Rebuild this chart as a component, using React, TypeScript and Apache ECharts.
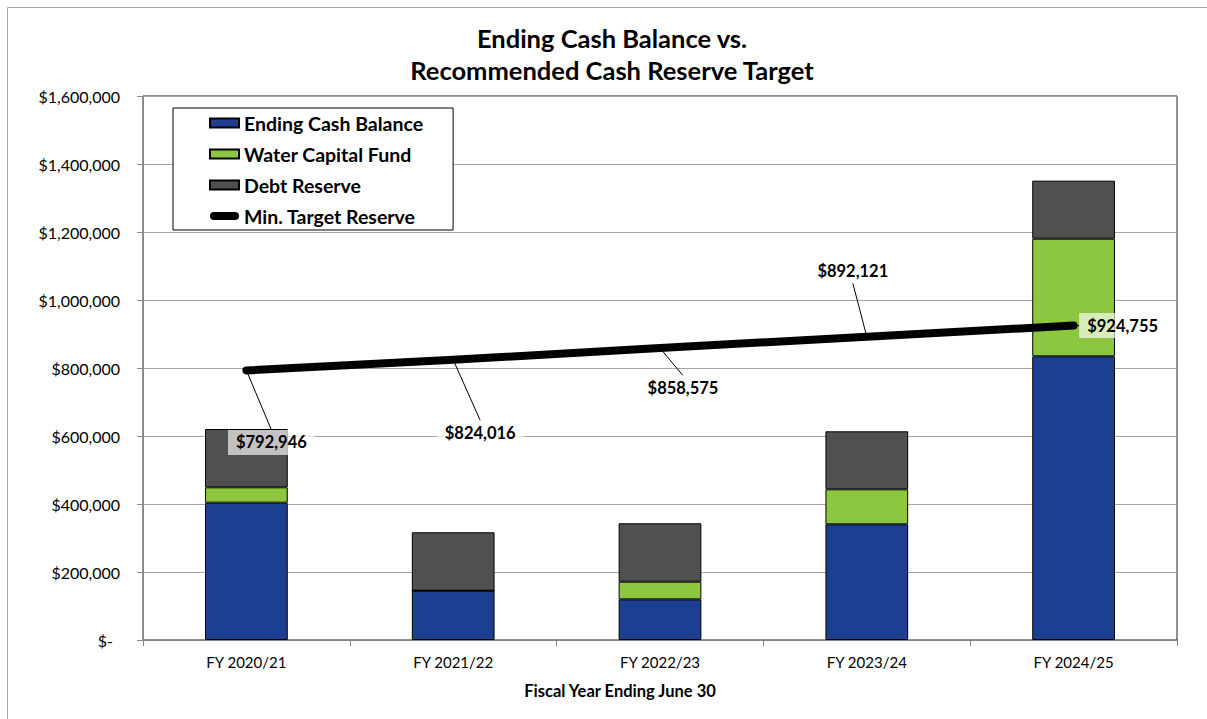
import React, { useEffect, useRef } from 'react';
import * as echarts from 'echarts';

const categories = ['FY 2020/21', 'FY 2021/22', 'FY 2022/23', 'FY 2023/24', 'FY 2024/25'];
const endingCashBalance = [403800, 145000, 119600, 340300, 834400];
const waterCapitalFund = [45300, 0, 51900, 102900, 345900];
const debtReserve = [171500, 171800, 171700, 170600, 170700];
const minTargetReserve = [792946, 824016, 858575, 892121, 924755];
const yTicks = { min: 0, max: 1600000, interval: 200000 };

// label placement offsets (px) relative to each line point
const labelOffsets: [number, number][] = [[25, 72], [27, 73], [23, 40], [-14, -66], [49, 0]];

const FONT = 'Lato, "Noto Sans", sans-serif';
const PILL = 'path://M4,0H25A4,4,0,0,1,25,8H4A4,4,0,0,1,4,0Z';

function money(v: number): string {
  return '$' + Math.round(v).toLocaleString('en-US');
}

export default function App() {
  const ref = useRef<HTMLDivElement>(null);
  useEffect(() => {
    if (!ref.current) return;
    const chart = echarts.init(ref.current, null, { renderer: 'svg' });
    chart.setOption({
      animation: false,
      backgroundColor: '#ffffff',
      textStyle: { fontFamily: FONT },
      graphic: [
        {
          type: 'rect', silent: true, z: -10,
          shape: { x: 7.5, y: 7.5, width: 1300, height: 800 },
          style: { fill: 'none', stroke: '#a6a6a6', lineWidth: 1 },
        },
        {
          type: 'text', x: 612, y: 38,
          style: { text: 'Ending Cash Balance vs.', fontFamily: FONT, fontSize: 25.5, fontWeight: 'bold', fill: '#000', align: 'center', verticalAlign: 'middle' },
        },
        {
          type: 'text', x: 612, y: 70,
          style: { text: 'Recommended Cash Reserve Target', fontFamily: FONT, fontSize: 25.5, fontWeight: 'bold', fill: '#000', align: 'center', verticalAlign: 'middle' },
        },
        {
          type: 'text', x: 620, y: 691,
          style: { text: 'Fiscal Year Ending June 30', fontFamily: FONT, fontSize: 16.5, fontWeight: 'bold', fill: '#000', align: 'center', verticalAlign: 'middle' },
        },
      ],
      legend: {
        orient: 'vertical',
        left: 173,
        top: 108,
        backgroundColor: '#ffffff',
        borderColor: '#000000',
        borderWidth: 1,
        padding: [5, 30, 4, 36],
        itemGap: 11,
        itemWidth: 29,
        itemHeight: 9,
        textStyle: { fontFamily: FONT, fontSize: 19.5, fontWeight: 'bold', color: '#000' },
        data: [
          { name: 'Ending Cash Balance', icon: 'rect' },
          { name: 'Water Capital Fund', icon: 'rect' },
          { name: 'Debt Reserve', icon: 'rect' },
          { name: 'Min. Target Reserve', icon: PILL, itemStyle: { color: '#000', borderWidth: 0 } },
        ],
      },
      grid: {
        left: 143, right: 30, top: 96, bottom: 79,
        show: true, borderColor: '#222222', borderWidth: 1, backgroundColor: '#ffffff',
      },
      xAxis: {
        type: 'category',
        data: categories,
        axisLine: { lineStyle: { color: '#868686', width: 1 } },
        axisTick: { show: true, length: 6, lineStyle: { color: '#868686' } },
        axisLabel: { fontFamily: FONT, fontSize: 15, color: '#000', margin: 14 },
      },
      yAxis: {
        type: 'value',
        min: yTicks.min,
        max: yTicks.max,
        interval: yTicks.interval,
        axisLine: { show: true, lineStyle: { color: '#868686', width: 1 } },
        axisTick: { show: true, length: 6, lineStyle: { color: '#868686' } },
        splitLine: { lineStyle: { color: '#a6a6a6', width: 1 } },
        axisLabel: {
          fontFamily: FONT, fontSize: 16, color: '#000', margin: 23,
          formatter: (v: number) => (v === 0 ? '{z|$-}' : money(v)),
          rich: { z: { fontFamily: FONT, fontSize: 16, color: '#000', padding: [0, 7, 0, 0] } },
        },
      },
      series: [
        {
          name: 'Ending Cash Balance', type: 'bar', stack: 'total', barWidth: '40%',
          data: endingCashBalance,
          itemStyle: { color: '#1d3f91', borderColor: '#000', borderWidth: 1 },
        },
        {
          name: 'Water Capital Fund', type: 'bar', stack: 'total', barWidth: '40%',
          data: waterCapitalFund,
          itemStyle: { color: '#8dc63f', borderColor: '#000', borderWidth: 1 },
        },
        {
          name: 'Debt Reserve', type: 'bar', stack: 'total', barWidth: '40%',
          data: debtReserve,
          itemStyle: { color: '#505050', borderColor: '#000', borderWidth: 1 },
        },
        {
          name: 'Min. Target Reserve', type: 'line',
          data: minTargetReserve,
          z: 10,
          symbol: 'circle', symbolSize: 1,
          itemStyle: { color: '#000' },
          lineStyle: { color: '#000', width: 8, cap: 'round', join: 'round' },
          label: {
            show: true,
            position: 'inside',
            formatter: (p: any) => money(p.value),
            fontFamily: FONT, fontSize: 16.5, fontWeight: 'bold', color: '#000',
            backgroundColor: 'rgba(255,255,255,0.65)',
            padding: [4, 8, 4, 8],
          },
          labelLine: { show: true, lineStyle: { color: '#000', width: 1 } },
          labelLayout: (params: any) => {
            const o = labelOffsets[params.dataIndex] || [0, 0];
            return { dx: o[0], dy: o[1] };
          },
        },
      ],
    });
    return () => chart.dispose();
  }, []);
  return <div ref={ref} style={{ position: 'fixed', left: 0, top: 0, width: 1207, height: 719 }} />;
}
